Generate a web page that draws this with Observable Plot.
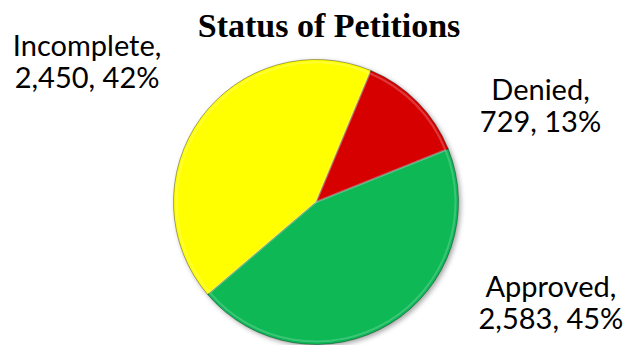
<!DOCTYPE html>
<html><head><meta charset="utf-8">
<script src="https://cdn.jsdelivr.net/npm/d3@7"></script>
<script src="https://cdn.jsdelivr.net/npm/@observablehq/plot@0.6"></script>
<style>body{margin:0;background:#fff}</style>
</head><body><div id="chart"></div>
<script>
const title = "Status of Petitions";
const categories = ["Denied", "Approved", "Incomplete"];
const counts = [729, 2583, 2450];
const percentLabels = ["13%", "45%", "42%"];
const colors = ["#D60606", "#0BB855", "#FFFF00"];
const startDegrees = 22.6;

const slices = categories.map((c, i) => ({category: c, count: counts[i], pct: percentLabels[i], color: colors[i]}));
const a0 = startDegrees * Math.PI / 180;
const arcs = d3.pie().value(d => d.count).sort(null).startAngle(a0).endAngle(a0 + 2 * Math.PI)(slices);

// label anchors in pie-radius units
const labelAnchor = {Denied: [1.572, 0.68], Approved: [1.645, -0.705], Incomplete: [-1.61, 0.99]};
const labels = slices.map(d => ({
  text: `${d.category},\n${d3.format(",")(d.count)}, ${d.pct}`,
  x: labelAnchor[d.category][0],
  y: labelAnchor[d.category][1]
}));

function pieMark(index, scales) {
  const {x, y} = scales;
  const cx = x(0), cy = y(0), r = x(1) - x(0);
  const arc = d3.arc().innerRadius(0).outerRadius(r);
  const g = d3.create("svg:g");
  const defs = g.append("defs");
  const f = defs.append("filter").attr("id", "pieShadow").attr("x", "-10%").attr("y", "-10%").attr("width", "130%").attr("height", "130%");
  f.append("feDropShadow").attr("dx", 2).attr("dy", 2).attr("stdDeviation", 2.5).attr("flood-color", "#000").attr("flood-opacity", 0.35);
  const pie = g.append("g").attr("transform", `translate(${cx},${cy})`).attr("filter", "url(#pieShadow)");
  pie.selectAll("path.slice").data(arcs).join("path")
    .attr("class", "slice")
    .attr("d", arc)
    .attr("fill", d => d.data.color)
    .attr("stroke", "rgba(0,0,0,0.35)")
    .attr("stroke-width", 1)
    .attr("stroke-linejoin", "round");
  // subtle inner bevel highlight
  pie.selectAll("path.hl").data(arcs).join("path")
    .attr("class", "hl")
    .attr("d", d3.arc().innerRadius(0).outerRadius(r - 3))
    .attr("fill", "none")
    .attr("stroke", "rgba(255,255,255,0.2)")
    .attr("stroke-width", 2);
  return g.node();
}

const chart = Plot.plot({
  width: 624,
  height: 345,
  marginTop: 59.5,
  marginBottom: 0.5,
  marginLeft: 173.5,
  marginRight: 165.5,
  x: {domain: [-1, 1], axis: null},
  y: {domain: [-1, 1], axis: null},
  style: {background: "#fff", overflow: "visible"},
  marks: [
    pieMark,
    Plot.text(labels, {x: "x", y: "y", text: "text", fontSize: 29, lineHeight: 1.1, fill: "#000",
      fontFamily: "Lato, 'Open Sans', sans-serif", textAnchor: "middle", lineAnchor: "middle"}),
    Plot.text([title], {x: () => 0.088, y: () => 1.24, text: d => d, fontSize: 34, fontWeight: "bold",
      fontFamily: "'Liberation Serif', serif", fill: "#000", textAnchor: "middle", lineAnchor: "middle"})
  ]
});
document.getElementById("chart").appendChild(chart);
</script>
</body></html>
